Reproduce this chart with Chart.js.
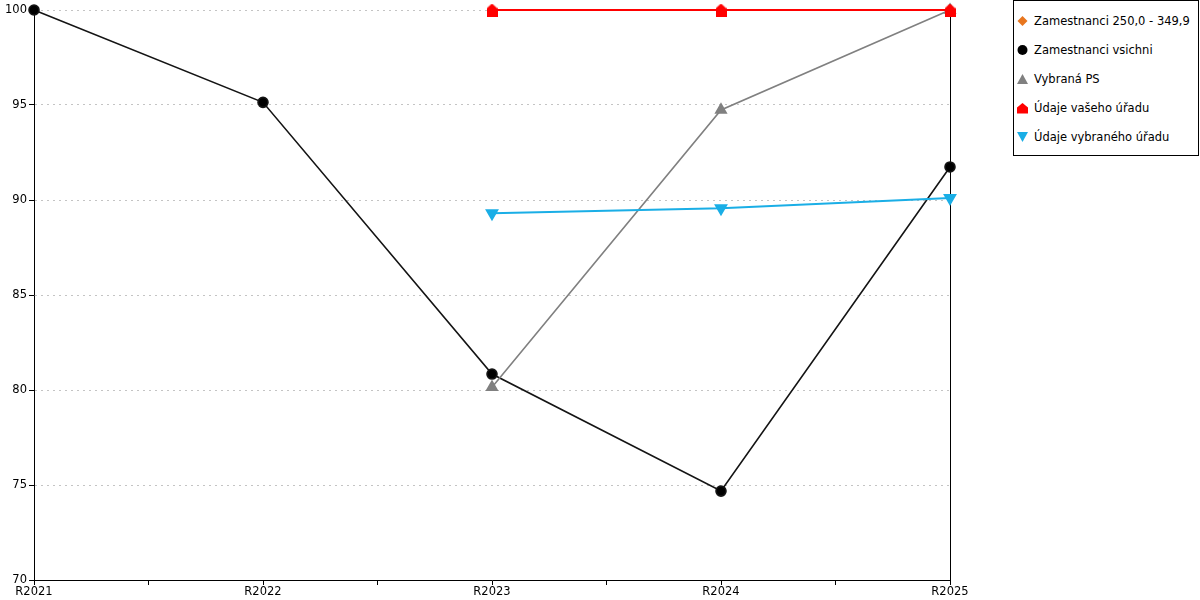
<!DOCTYPE html>
<html>
<head>
<meta charset="utf-8">
<script src="https://cdn.jsdelivr.net/npm/chart.js@4"></script>
<style>
  html, body { margin: 0; padding: 0; background: #fff; }
  body { width: 1200px; height: 600px; position: relative; overflow: hidden; font-family: "DejaVu Sans", Verdana, sans-serif; }
  #wrap { position: absolute; left: 0; top: 0; width: 1000px; height: 600px; }
  #legend { position: absolute; left: 1013px; top: 0; width: 186px; height: 156px; border: 1px solid #000; box-sizing: border-box; }
  #legend .item { position: absolute; left: 0; height: 16px; font-size: 11.5px; line-height: 16px; color: #000; white-space: nowrap; }
  #legend svg { position: absolute; left: 3px; top: 2px; }
  #legend span { position: absolute; left: 20px; top: 0; }
</style>
</head>
<body>
<div id="wrap"><canvas id="chart" width="1000" height="600"></canvas></div>
<div id="legend"></div>
<script>
// categories + series
const categories = ["R2021", "R2022", "R2023", "R2024", "R2025"];
const yTicks = [70, 75, 80, 85, 90, 95, 100];

const zam250      = [null, null, null, null, null];
const zamVsichni  = [100, 95.14, 80.84, 74.68, 91.74];
const vybranaPS   = [null, null, 80.15, 94.74, 100];
const vasUrad     = [null, null, 100, 100, 100];
const vybranyUrad = [null, null, 89.3, 89.56, 90.1];

const seriesNames = [
  "Zamestnanci 250,0 - 349,9",
  "Zamestnanci vsichni",
  "Vybraná PS",
  "Údaje vašeho úřadu",
  "Údaje vybraného úřadu"
];

const ORANGE = "#e8761e", BLACK = "#000000", GRAY = "#808080", RED = "#ff0000", BLUE = "#1aaee6";
const FONT = { family: "DejaVu Sans", size: 11.5 };

// little "house" marker for the red series
function houseCanvas(color) {
  const c = document.createElement("canvas");
  c.width = 11; c.height = 13;
  const g = c.getContext("2d");
  g.fillStyle = color;
  g.beginPath();
  g.moveTo(5.5, 0);
  g.lineTo(11, 5);
  g.lineTo(11, 13);
  g.lineTo(0, 13);
  g.lineTo(0, 5);
  g.closePath();
  g.fill();
  return c;
}

const toXY = (arr) => arr.map((v, i) => ({ x: i, y: v }));

const datasets = [
  { label: seriesNames[0], data: toXY(zam250), borderColor: ORANGE, backgroundColor: ORANGE,
    pointStyle: "rectRot", pointRadius: 5, borderWidth: 2 },
  { label: seriesNames[1], data: toXY(zamVsichni), borderColor: "#141414", backgroundColor: BLACK,
    pointStyle: "circle", pointRadius: 5, borderWidth: 1.6 },
  { label: seriesNames[2], data: toXY(vybranaPS), borderColor: GRAY, backgroundColor: GRAY,
    pointStyle: "triangle", pointRadius: 6, borderWidth: 1.6 },
  { label: seriesNames[3], data: toXY(vasUrad), borderColor: RED, backgroundColor: RED,
    pointStyle: houseCanvas(RED), borderWidth: 2 },
  { label: seriesNames[4], data: toXY(vybranyUrad), borderColor: BLUE, backgroundColor: BLUE,
    pointStyle: "triangle", pointRotation: 180, pointRadius: 6, borderWidth: 2 }
].map((d, i, all) => ({ ...d, clip: false, order: all.length - i })); // later series on top

new Chart(document.getElementById("chart"), {
  type: "line",
  data: { datasets },
  options: {
    responsive: false,
    animation: false,
    layout: { padding: { top: 10, right: 50, left: 0, bottom: 0 } },
    elements: { line: { tension: 0 }, point: { borderWidth: 0, hoverRadius: 5 } },
    plugins: { legend: { display: false }, tooltip: { enabled: false } },
    scales: {
      x: {
        type: "linear",
        min: 0, max: categories.length - 1,
        afterBuildTicks: (s) => {
          const t = [];
          for (let v = 0; v <= categories.length - 1; v += 0.5) t.push({ value: v });
          s.ticks = t;
        },
        afterFit: (s) => { s.height = 20; },
        ticks: {
          autoSkip: false, maxRotation: 0, padding: 0, color: "#000", font: FONT,
          callback: (v) => Number.isInteger(v) ? categories[v] : ""
        },
        grid: {
          color: (ctx) => ctx.tick && ctx.tick.value === categories.length - 1 ? "#000" : "rgba(0,0,0,0)",
          tickColor: "#000", tickLength: 5, lineWidth: 1
        },
        border: { color: "#000", width: 1 }
      },
      y: {
        min: 70, max: 100,
        afterBuildTicks: (s) => { s.ticks = yTicks.map(v => ({ value: v })); },
        afterFit: (s) => { s.width = 34; },
        ticks: { color: "#000", padding: 2, font: FONT },
        grid: { color: "#c4c4c4", tickColor: "#000", tickLength: 5, lineWidth: 1 },
        border: { color: "#000", width: 1, dash: [2, 4] }
      }
    }
  }
});

// legend built from the same names/colours
const legendShapes = [
  `<svg width="12" height="12"><polygon points="5.5,1 10.5,6 5.5,11 0.5,6" fill="${ORANGE}"/></svg>`,
  `<svg width="12" height="12"><circle cx="5.5" cy="6" r="5" fill="${BLACK}"/></svg>`,
  `<svg width="12" height="12"><polygon points="5.5,1 11,11 0,11" fill="${GRAY}"/></svg>`,
  `<svg width="12" height="12"><polygon points="5.5,1 11,5.5 11,11.5 0,11.5 0,5.5" fill="${RED}"/></svg>`,
  `<svg width="12" height="12"><polygon points="0,1 11,1 5.5,11" fill="${BLUE}"/></svg>`
];
const rowTops = [12, 41, 70, 99, 128];
document.getElementById("legend").innerHTML = seriesNames.map((n, i) =>
  `<div class="item" style="top:${rowTops[i]}px">${legendShapes[i]}<span>${n}</span></div>`
).join("");
</script>
</body>
</html>
